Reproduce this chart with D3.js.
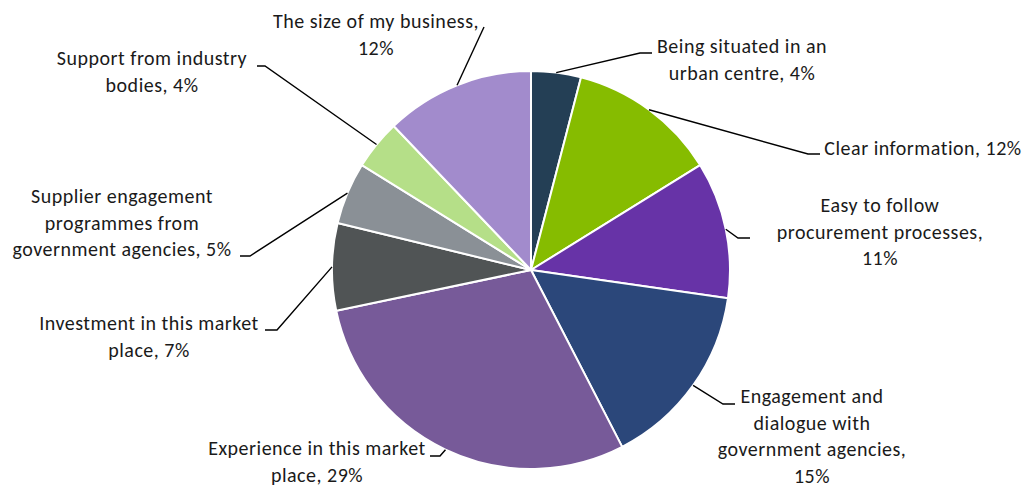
<!DOCTYPE html>
<html>
<head>
<meta charset="utf-8">
<script src="https://cdn.jsdelivr.net/npm/d3@7"></script>
<style>
  html, body { margin: 0; padding: 0; background: #ffffff; }
  svg { display: block; }
  .lbl { font-family: Carlito, Lato, "Open Sans", sans-serif; font-size: 20px; letter-spacing: 0.5px; fill: #1a1a1a; }
</style>
</head>
<body>
<svg id="chart" width="1025" height="488"></svg>
<script>
// Factors that helped win government business (share of responses, %)
const categories = [
  "Being situated in an urban centre",
  "Clear information",
  "Easy to follow procurement processes",
  "Engagement and dialogue with government agencies",
  "Experience in this market place",
  "Investment in this market place",
  "Supplier engagement programmes from government agencies",
  "Support from industry bodies",
  "The size of my business"
];
const values = [4, 12, 11, 15, 29, 7, 5, 4, 12];
const colors = ["#243F55", "#86BC00", "#6733A7", "#2B477A", "#775A99",
                "#505455", "#8A9096", "#B5DF88", "#A28BCC"];

// Label text broken into lines as displayed
const labelLines = [
  ["Being situated in an", "urban centre, 4%"],
  ["Clear information, 12%"],
  ["Easy to follow", "procurement processes,", "11%"],
  ["Engagement and", "dialogue with", "government agencies,", "15%"],
  ["Experience in this market", "place, 29%"],
  ["Investment in this market", "place, 7%"],
  ["Supplier engagement", "programmes from", "government agencies, 5%"],
  ["Support from industry", "bodies, 4%"],
  ["The size of my business,", "12%"]
];

// Label layout: text centre x, first baseline y, leader end point, horizontal stub direction
const labelLayout = [
  { x: 742, y: 53,  end: [652, 53],  stub: -12 },
  { x: 923, y: 155, end: [820, 154], stub: -12 },
  { x: 880, y: 212, end: [750, 238], stub: -12 },
  { x: 812, y: 403, end: [735, 404], stub: -12 },
  { x: 317, y: 455, end: [430, 456], stub: 10 },
  { x: 149, y: 330, end: [265, 330], stub: 12 },
  { x: 122, y: 203, end: [240, 256], stub: 10 },
  { x: 152, y: 65,  end: [257, 66],  stub: 8 },
  { x: 376, y: 28,  end: [484, 27],  stub: 0 }
];

const svg = d3.select("#chart");
const cx = 531, cy = 270, radius = 199;
const lineGap = 26.5;

const pie = d3.pie().sort(null).value(d => d);
const arcs = pie(values);
const arc = d3.arc().innerRadius(0).outerRadius(radius);
const edgeArc = d3.arc().innerRadius(radius).outerRadius(radius);

const g = svg.append("g").attr("transform", `translate(${cx},${cy})`);

g.selectAll("path.slice")
  .data(arcs)
  .join("path")
  .attr("class", "slice")
  .attr("d", arc)
  .attr("fill", (d, i) => colors[i])
  .attr("stroke", "#ffffff")
  .attr("stroke-width", 2)
  .attr("stroke-linejoin", "round");

// Leader lines: from slice edge midpoint to label
const leaders = svg.append("g")
  .attr("fill", "none")
  .attr("stroke", "#000000")
  .attr("stroke-width", 1.4);

arcs.forEach((a, i) => {
  const L = labelLayout[i];
  const [ex, ey] = edgeArc.centroid(a);
  const p0 = [cx + ex, cy + ey];
  const p1 = [L.end[0] + L.stub, L.end[1]];
  const p2 = L.end;
  leaders.append("path")
    .attr("d", d3.line()([p0, p1, p2]));
});

// Labels
const labels = svg.append("g");
labelLines.forEach((lines, i) => {
  const L = labelLayout[i];
  const t = labels.append("text")
    .attr("class", "lbl")
    .attr("text-anchor", "middle")
    .attr("x", L.x)
    .attr("y", L.y);
  lines.forEach((s, k) => {
    t.append("tspan")
      .attr("x", L.x)
      .attr("dy", k === 0 ? 0 : lineGap)
      .text(s);
  });
});
</script>
</body>
</html>
